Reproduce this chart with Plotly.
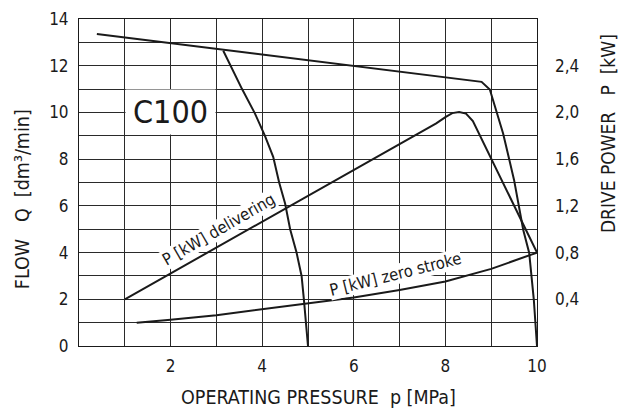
import plotly.graph_objects as go

# ---- data ----
# Flow curve reaching 10 MPa (Q in dm3/min)
pressure_flow_a = [0.39, 8.79, 8.97, 9.26, 9.50, 9.70, 9.83, 9.93, 10.0]
flow_a = [13.36, 11.31, 10.98, 9.10, 7.10, 4.97, 3.98, 2.00, 0.00]

# Flow curve reaching 5 MPa
pressure_flow_b = [3.15, 3.56, 3.84, 4.06, 4.24, 4.37, 4.50, 4.61, 4.75, 4.86, 4.91, 4.96, 5.0]
flow_b = [12.64, 11.0, 9.96, 9.0, 8.1, 7.0, 6.1, 5.0, 4.0, 3.0, 2.0, 1.0, 0.0]

# Drive power, delivering (kW)
pressure_deliv = [1.0, 7.8, 8.0, 8.15, 8.3, 8.45, 8.6, 10.0]
power_deliv = [0.40, 1.906, 1.96, 1.994, 2.004, 1.99, 1.926, 0.80]

# Drive power, zero stroke (kW)
pressure_zero = [1.26, 2.0, 3.0, 4.0, 5.0, 6.0, 7.0, 8.0, 9.0, 10.0]
power_zero = [0.20, 0.224, 0.264, 0.316, 0.37, 0.416, 0.48, 0.552, 0.66, 0.80]

x_ticks = [2, 4, 6, 8, 10]
y_ticks = [0, 2, 4, 6, 8, 10, 12, 14]
p_ticks = [0.4, 0.8, 1.2, 1.6, 2.0, 2.4]
p_tick_text = ["0,4", "0,8", "1,2", "1,6", "2,0", "2,4"]

FONT = "DejaVu Sans Condensed, Liberation Sans Narrow, Arial Narrow, sans-serif"
INK = "#1a1a1a"
GRID = "#2a2a2a"
NB = "\u00a0"
TICK = dict(family=FONT, size=17, color=INK)

fig = go.Figure()
line_style = dict(color=INK, width=2)
fig.add_trace(go.Scatter(x=pressure_flow_a, y=flow_a, mode="lines", line=line_style,
                         cliponaxis=False, showlegend=False, hoverinfo="skip"))
fig.add_trace(go.Scatter(x=pressure_flow_b, y=flow_b, mode="lines", line=line_style,
                         cliponaxis=False, showlegend=False, hoverinfo="skip"))
fig.add_trace(go.Scatter(x=pressure_deliv, y=power_deliv, mode="lines", line=line_style,
                         yaxis="y2", cliponaxis=False, showlegend=False, hoverinfo="skip"))
fig.add_trace(go.Scatter(x=pressure_zero, y=power_zero, mode="lines", line=line_style,
                         yaxis="y2", cliponaxis=False, showlegend=False, hoverinfo="skip"))

# page body adds an 8px offset, so the figure is sized/margined to compensate
fig.update_layout(
    width=626, height=406,
    margin=dict(l=71, r=97, t=11, b=68, autoexpand=False),
    paper_bgcolor="white", plot_bgcolor="white",
    font=dict(family=FONT, size=17, color=INK),
    xaxis=dict(range=[0, 10], tickvals=x_ticks, showgrid=True, gridcolor=GRID, gridwidth=1,
               minor=dict(dtick=1, showgrid=True, gridcolor=GRID, gridwidth=1),
               showline=True, linecolor=INK, linewidth=1, mirror=True, automargin=False,
               zeroline=False, ticks="", ticklabelstandoff=5, tickfont=TICK),
    yaxis=dict(range=[0, 14], tickvals=y_ticks, showgrid=True, gridcolor=GRID, gridwidth=1,
               minor=dict(dtick=1, showgrid=True, gridcolor=GRID, gridwidth=1),
               showline=True, linecolor=INK, linewidth=1, mirror=True, automargin=False,
               zeroline=False, ticks="", ticklabelstandoff=6, tickfont=TICK),
    yaxis2=dict(range=[0, 2.8], overlaying="y", side="right", tickvals=p_ticks,
                ticktext=p_tick_text, showgrid=False, zeroline=False, ticks="",
                showline=False, ticklabelstandoff=17, automargin=False, tickfont=TICK),
)

# C100 label with white box filling the grid cells
fig.add_annotation(x=2, y=10, xref="x", yref="y", text="C100", showarrow=False,
                   font=dict(family=FONT, size=32, color=INK),
                   bgcolor="white", width=89, height=44, borderpad=0)

fig.add_annotation(x=3.05, y=5.0, xref="x", yref="y", text="P [kW] delivering",
                   showarrow=False, textangle=-30, bgcolor="white", borderpad=0,
                   xanchor="center", yanchor="middle",
                   font=dict(family=FONT, size=16.5, color=INK))
fig.add_annotation(x=6.9, y=3.05, xref="x", yref="y", text="P [kW] zero stroke",
                   showarrow=False, textangle=-14, bgcolor="white", borderpad=0,
                   xanchor="center", yanchor="middle",
                   font=dict(family=FONT, size=16.5, color=INK))

# axis titles
fig.add_annotation(x=-0.1245, y=0.449, xref="paper", yref="paper",
                   xanchor="center", yanchor="middle",
                   text=f"FLOW{NB}{NB}{NB}Q{NB}{NB}[dm³/min]", textangle=-90,
                   showarrow=False, font=dict(family=FONT, size=19.5, color=INK))
fig.add_annotation(x=1.155, y=0.651, xref="paper", yref="paper",
                   xanchor="center", yanchor="middle",
                   text=f"DRIVE POWER{NB}{NB}{NB}P{NB}{NB}[kW]", textangle=-90,
                   showarrow=False, font=dict(family=FONT, size=19, color=INK))
fig.add_annotation(x=0.523, y=-0.159, xref="paper", yref="paper",
                   xanchor="center", yanchor="middle",
                   text=f"OPERATING PRESSURE{NB}{NB}p [MPa]",
                   showarrow=False, font=dict(family=FONT, size=19.5, color=INK))

fig.write_html("out.html")
